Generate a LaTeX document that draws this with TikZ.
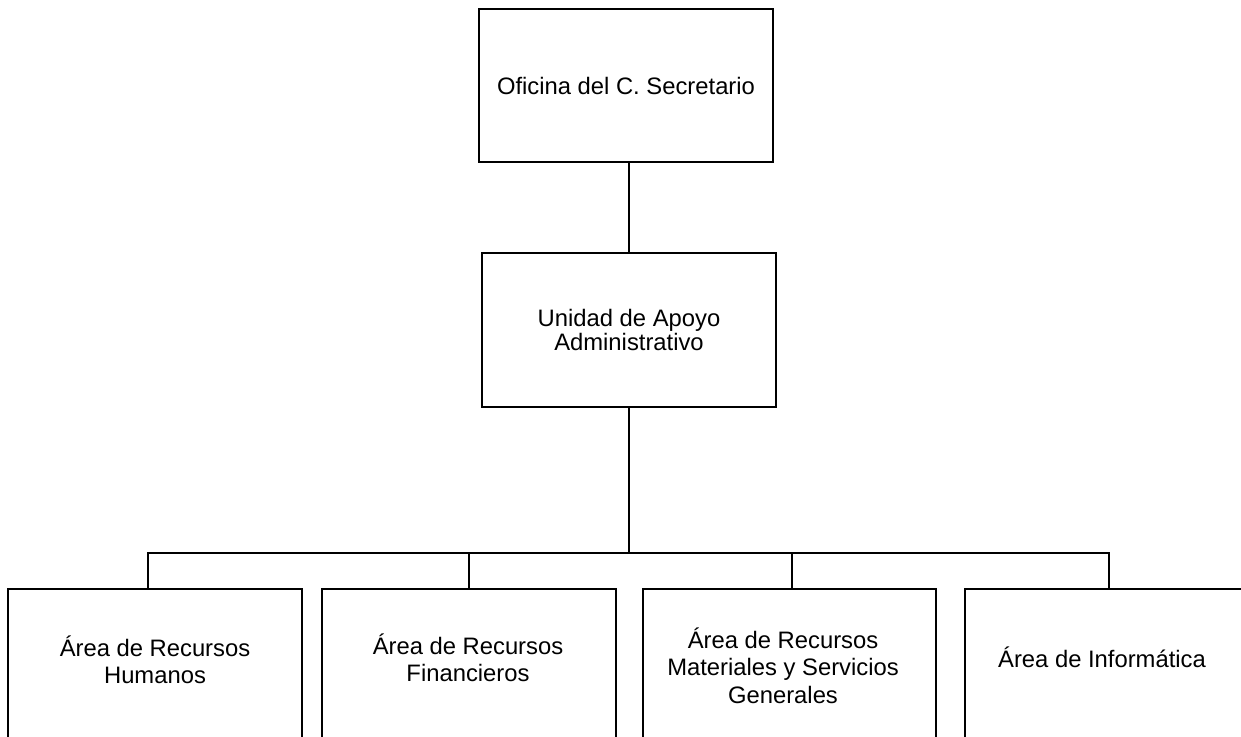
\documentclass[tikz,border=0pt]{standalone}
\usepackage{fontspec}
\setmainfont{Liberation Sans}
\begin{document}
\begin{tikzpicture}[x=1pt,y=-1pt,
  box/.style={draw,line width=1.7pt,rectangle,inner sep=0pt},
  lbl/.style={align=center,inner sep=0pt,font=\fontsize{23.8}{27.5}\selectfont},
  conn/.style={line width=1.7pt}]
\useasboundingbox (0,0) rectangle (1241,736);
% top and middle boxes
\node[box,minimum width=294pt,minimum height=153pt,font=\fontsize{23.8}{27.5}\selectfont] (top) at (626,85.5) {Oficina del C. Secretario};
\node[box,minimum width=294pt,minimum height=154pt,align=center,font=\fontsize{23.8}{20.5}\selectfont] (mid) at (629,330) {Unidad de Apoyo\\Administrativo};
% bottom boxes (extend below the picture)
\node[box,anchor=north west,minimum width=294pt,minimum height=200pt] (b1) at (7,588) {};
\node[box,anchor=north west,minimum width=294pt,minimum height=200pt] (b2) at (321,588) {};
\node[box,anchor=north west,minimum width=293pt,minimum height=200pt] (b3) at (642,588) {};
\node[box,anchor=north west,minimum width=290pt,minimum height=200pt] (b4) at (964,588) {};
% labels of bottom boxes
\node[lbl] (t1) at (155,660) {Área de Recursos\\Humanos};
\node[lbl] (t2) at (468,658) {Área de Recursos\\Financieros};
\node[lbl] (t3) at (783,665.5) {Área de Recursos\\Materiales y Servicios\\Generales};
\node[lbl] (t4) at (1102,657.5) {Área de Informática};
% connectors
\coordinate (bus) at (629,553);
\coordinate (d1) at (148,553);
\coordinate (d2) at (469,553);
\coordinate (d3) at (792,553);
\coordinate (d4) at (1109,553);
\draw[conn] (mid.north) -- (mid.north |- top.south);
\draw[conn] (mid.south) -- (bus);
\draw[conn,line cap=rect] (d1) -- (d4);
\draw[conn] (d1) -- (d1 |- b1.north);
\draw[conn] (d2) -- (d2 |- b2.north);
\draw[conn] (d3) -- (d3 |- b3.north);
\draw[conn] (d4) -- (d4 |- b4.north);
\end{tikzpicture}
\end{document}
